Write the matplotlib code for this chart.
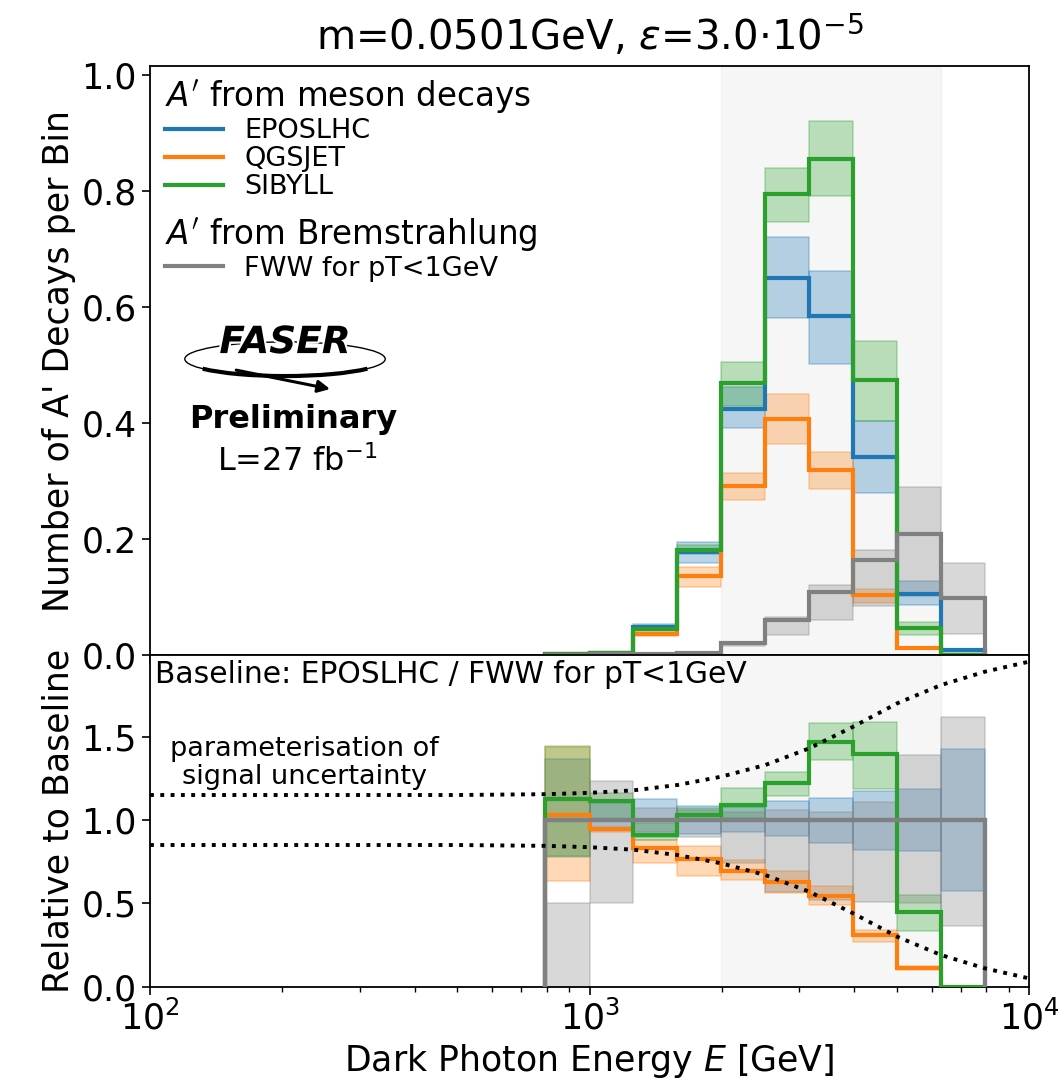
import numpy as np
import matplotlib
matplotlib.use("Agg")
import matplotlib.pyplot as plt
from matplotlib.lines import Line2D
from matplotlib.patches import Ellipse, Arc
import matplotlib.patheffects as pe

# ---------------- data ----------------
edges = [794, 1000, 1259, 1585, 1995, 2512, 3162, 3981, 5012, 6310, 7943]
signal_region = [1995, 6310]

# top panel: number of decays per bin
epos = [0.002, 0.004, 0.048, 0.178, 0.424, 0.651, 0.585, 0.341, 0.106, 0.008]
epos_lo = [0.0015, 0.003, 0.044, 0.159, 0.391, 0.582, 0.502, 0.279, 0.086, 0.005]
epos_hi = [0.003, 0.005, 0.053, 0.195, 0.463, 0.721, 0.663, 0.403, 0.127, 0.011]

qgsjet = [0.002, 0.004, 0.036, 0.136, 0.291, 0.407, 0.319, 0.104, 0.012, 0.0]
qgsjet_lo = [0.0013, 0.0037, 0.032, 0.118, 0.268, 0.364, 0.286, 0.089, 0.010, 0.0]
qgsjet_hi = [0.003, 0.0041, 0.040, 0.151, 0.314, 0.451, 0.350, 0.114, 0.013, 0.0]

sibyll = [0.002, 0.004, 0.045, 0.182, 0.469, 0.795, 0.856, 0.475, 0.046, 0.0]
sibyll_lo = [0.0016, 0.004, 0.042, 0.175, 0.430, 0.747, 0.792, 0.403, 0.034, 0.0]
sibyll_hi = [0.003, 0.005, 0.050, 0.190, 0.505, 0.840, 0.921, 0.542, 0.057, 0.0]

fww = [0.0005, 0.001, 0.002, 0.003, 0.021, 0.061, 0.109, 0.164, 0.208, 0.098]
fww_lo = [0.0, 0.0005, 0.0019, 0.0027, 0.016, 0.035, 0.060, 0.084, 0.102, 0.036]
fww_hi = [0.00025, 0.0012, 0.0021, 0.0032, 0.022, 0.065, 0.120, 0.182, 0.290, 0.159]

# bottom panel: ratio to baseline
epos_rel = [1.0, 1.0, 1.0, 1.0, 1.0, 1.0, 1.0, 1.0, 1.0, 1.0]
epos_rel_lo = [0.78, 0.95, 0.90, 0.914, 0.93, 0.904, 0.864, 0.823, 0.813, 0.572]
epos_rel_hi = [1.366, 1.10, 1.125, 1.084, 1.08, 1.114, 1.135, 1.175, 1.189, 1.426]

qgsjet_rel = [1.032, 0.948, 0.834, 0.767, 0.693, 0.627, 0.546, 0.311, 0.115, 0.0]
qgsjet_rel_lo = [0.633, 0.93, 0.74, 0.667, 0.643, 0.562, 0.492, 0.271, 0.10, 0.0]
qgsjet_rel_hi = [1.436, 0.96, 0.88, 0.847, 0.763, 0.693, 0.607, 0.341, 0.125, 0.0]

sibyll_rel = [1.125, 1.114, 0.908, 1.028, 1.09, 1.221, 1.47, 1.396, 0.446, 0.0]
sibyll_rel_lo = [0.783, 1.0, 0.88, 1.0, 1.014, 1.145, 1.361, 1.189, 0.337, 0.0]
sibyll_rel_hi = [1.446, 1.16, 0.985, 1.07, 1.195, 1.289, 1.582, 1.59, 0.552, 0.0]

fww_rel = [1.0, 1.0, 1.0, 1.0, 1.0, 1.0, 1.0, 1.0, 1.0, 1.0]
fww_rel_lo = [0.0, 0.50, 0.93, 0.90, 0.74, 0.57, 0.52, 0.51, 0.50, 0.365]
fww_rel_hi = [0.50, 1.235, 1.07, 1.06, 1.05, 1.06, 1.05, 1.11, 1.39, 1.62]

# parameterisation of signal uncertainty (dotted curves)
curve_E = [100, 500, 794, 1000, 1259, 1585, 1995, 2512, 3162, 3981, 5012, 6310, 7943, 10000]
curve_up = [1.15, 1.15, 1.155, 1.163, 1.178, 1.21, 1.26, 1.33, 1.43, 1.56, 1.70, 1.81, 1.89, 1.95]
curve_dn = [0.85, 0.85, 0.845, 0.837, 0.822, 0.79, 0.74, 0.67, 0.57, 0.44, 0.30, 0.19, 0.11, 0.05]

labels = ["EPOSLHC", "QGSJET", "SIBYLL"]
colors = ["tab:blue", "tab:orange", "tab:green"]
brem_label = "FWW for pT<1GeV"
brem_color = "grey"

# ---------------- figure ----------------
fig = plt.figure(figsize=(10.64, 10.8), dpi=100)
ax1 = fig.add_axes([0.14098, 0.39352, 0.82613, 0.54491])
ax2 = fig.add_axes([0.14098, 0.08639, 0.82613, 0.30713])

for ax in (ax1, ax2):
    ax.axvspan(signal_region[0], signal_region[1], color="lightgrey", alpha=0.2, zorder=0)


def bands(ax, lo, hi, color):
    for i in range(len(lo)):
        if hi[i] - lo[i] <= 0:
            continue
        ax.fill_between([edges[i], edges[i + 1]], [lo[i]] * 2, [hi[i]] * 2,
                        color=color, alpha=0.3, lw=1.2, zorder=1)


top_sets = [(epos, epos_lo, epos_hi), (qgsjet, qgsjet_lo, qgsjet_hi), (sibyll, sibyll_lo, sibyll_hi)]
rel_sets = [(epos_rel, epos_rel_lo, epos_rel_hi), (qgsjet_rel, qgsjet_rel_lo, qgsjet_rel_hi),
            (sibyll_rel, sibyll_rel_lo, sibyll_rel_hi)]

for (v, lo, hi), c in zip(top_sets, colors):
    bands(ax1, lo, hi, c)
bands(ax1, fww_lo, fww_hi, brem_color)
for (v, lo, hi), c in zip(top_sets, colors):
    ax1.stairs(v, edges, baseline=0, color=c, lw=3, zorder=3)
ax1.stairs(fww, edges, baseline=0, color=brem_color, lw=3, zorder=4)

for (v, lo, hi), c in zip(rel_sets, colors):
    bands(ax2, lo, hi, c)
bands(ax2, fww_rel_lo, fww_rel_hi, brem_color)
for (v, lo, hi), c in zip(rel_sets, colors):
    ax2.stairs(v, edges, baseline=0, color=c, lw=3, zorder=3)
ax2.stairs(fww_rel, edges, baseline=0, color=brem_color, lw=3, zorder=4)

ax2.plot(curve_E, curve_up, color="black", ls=":", lw=2.8, zorder=5)
ax2.plot(curve_E, curve_dn, color="black", ls=":", lw=2.8, zorder=5)

# axes
for ax in (ax1, ax2):
    ax.set_xscale("log")
    ax.set_xlim(100, 10000)
    ax.tick_params(labelsize=25, length=6, width=1.2)
    ax.tick_params(which="minor", length=3.5, width=1)
    for s in ax.spines.values():
        s.set_linewidth(1.3)
ax1.tick_params(axis="x", labelbottom=False)
ax1.set_ylim(0, 1.0155)
ax1.set_yticks([0.0, 0.2, 0.4, 0.6, 0.8, 1.0])
ax2.set_ylim(0, 1.99)
ax2.set_yticks([0.0, 0.5, 1.0, 1.5])

ax1.set_ylabel("Number of A' Decays per Bin", fontsize=25)
ax2.set_ylabel("Relative to Baseline", fontsize=25)
ax2.set_xlabel("Dark Photon Energy $E$ [GeV]", fontsize=25)
fig.align_ylabels([ax1, ax2])
ax1.set_title(r"m=0.0501GeV, $\epsilon$=3.0$\cdot$10$^{-5}$", fontsize=29, pad=12)

# legends
h1 = [Line2D([], [], color=c, lw=3) for c in colors]
leg1 = ax1.legend(h1, labels, title="$A'$ from meson decays", loc="upper left",
                  bbox_to_anchor=(-0.005, 1.012), frameon=False, fontsize=19.5,
                  title_fontsize=23.5, alignment="left", labelspacing=0.08,
                  handlelength=2.15, handletextpad=0.8, borderaxespad=0.3)
ax1.add_artist(leg1)
h2 = [Line2D([], [], color=brem_color, lw=3)]
ax1.legend(h2, [brem_label], title="$A'$ from Bremstrahlung", loc="upper left",
           bbox_to_anchor=(-0.005, 0.778), frameon=False, fontsize=19.5,
           title_fontsize=23.5, alignment="left", labelspacing=0.08,
           handlelength=2.15, handletextpad=0.8, borderaxespad=0.3)

# FASER logo (approximation) and labels
ell = Ellipse((0.1536, 0.503), 0.228, 0.058, transform=ax1.transAxes, fill=False,
              ec="black", lw=1.0, zorder=6)
ax1.add_patch(ell)
arc = Arc((0.1536, 0.503), 0.228, 0.058, theta1=190, theta2=350, transform=ax1.transAxes,
          ec="black", lw=3.0, zorder=6)
ax1.add_patch(arc)
ax1.text(0.1536, 0.530, "FASER", transform=ax1.transAxes, ha="center", va="center",
         fontsize=27, fontweight="heavy", style="italic", zorder=7,
         path_effects=[pe.withStroke(linewidth=3, foreground="white")])
ax1.annotate("", xy=(0.208, 0.451), xytext=(0.095, 0.485), xycoords="axes fraction",
             arrowprops=dict(arrowstyle="-|>", color="black", lw=2.2, mutation_scale=18),
             zorder=7)
ax1.text(0.163, 0.400, "Preliminary", transform=ax1.transAxes, ha="center", va="center",
         fontsize=23, fontweight="bold")
ax1.text(0.167, 0.328, "L=27 fb$^{-1}$", transform=ax1.transAxes, ha="center", va="center",
         fontsize=23)

ax2.text(0.006, 0.985, "Baseline: EPOSLHC / FWW for pT<1GeV", transform=ax2.transAxes,
         ha="left", va="top", fontsize=21.4)
ax2.text(0.176, 1.345, "parameterisation of\nsignal uncertainty", transform=ax2.get_yaxis_transform(),
         ha="center", va="center", fontsize=19.5, linespacing=1.1)

fig.savefig("out.png", dpi=100)
